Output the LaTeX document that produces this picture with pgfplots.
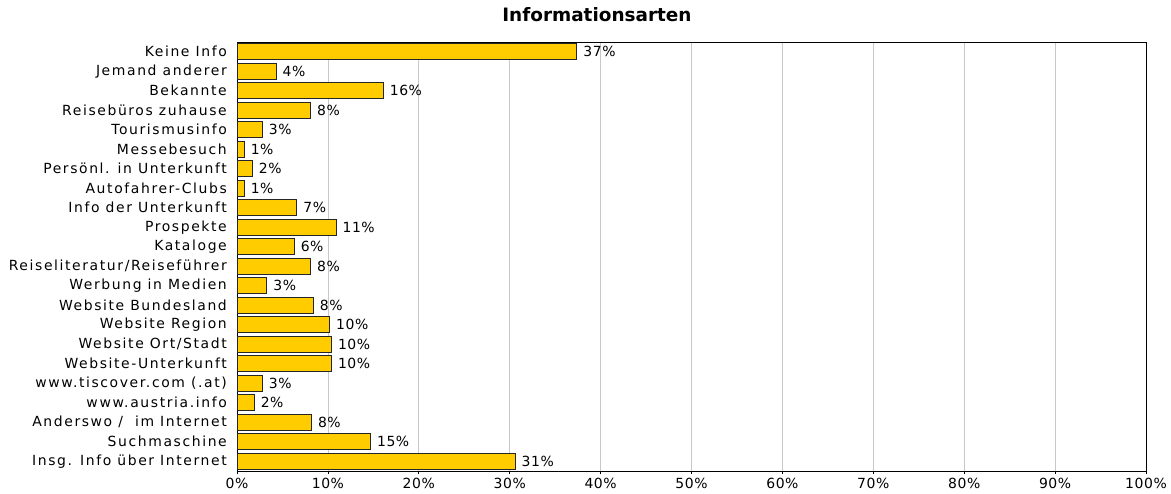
\documentclass[border=0pt]{standalone}
\usepackage{pgfplots}
\pgfplotsset{compat=1.18}
\usepackage{pgfplotstable}
\usepackage{fontspec}
\setmainfont{DejaVu Sans}[LetterSpace=11.5]
\newfontfamily\titlefont{DejaVu Sans}
\newfontfamily\numfont{DejaVu Sans}[LetterSpace=4]
\definecolor{barfill}{HTML}{FFCC00}
\definecolor{gridc}{HTML}{C8C8C8}
\pgfplotstableread{
y x lab
0 37.4 37
1 4.3 4
2 16.1 16
3 8.1 8
4 2.8 3
5 0.8 1
6 1.7 2
7 0.8 1
8 6.6 7
9 10.9 11
10 6.3 6
11 8.1 8
12 3.3 3
13 8.4 8
14 10.2 10
15 10.4 10
16 10.4 10
17 2.8 3
18 1.9 2
19 8.2 8
20 14.7 15
21 30.6 31
}\data
\begin{document}
\begin{tikzpicture}
\useasboundingbox (0,0) rectangle (1171bp,494bp);
\begin{axis}[
  at={(237bp,23bp)}, anchor=south west,
  scale only axis, width=909bp, height=429bp,
  xmin=0, xmax=100, ymin=-0.5, ymax=21.5,
  y dir=reverse,
  xbar, bar width=0.8,
  font=\fontsize{14}{16}\selectfont,
  /pgf/number format/assume math mode=true,
  xtick={0,10,...,100},
  xticklabels={0\%,10\%,20\%,30\%,40\%,50\%,60\%,70\%,80\%,90\%,100\%},
  ytick={0,...,21},
  yticklabels={Keine Info,Jemand anderer,Bekannte,Reisebüros zuhause,Tourismusinfo,Messebesuch,Persönl. in Unterkunft,Autofahrer-Clubs,Info der Unterkunft,Prospekte,Kataloge,Reiseliteratur/Reiseführer,Werbung in Medien,Website Bundesland,Website Region,Website Ort/Stadt,Website-Unterkunft,www.tiscover.com (.at),www.austria.info,Anderswo /~ im Internet,Suchmaschine,Insg. Info über Internet},
  xmajorgrids, major grid style={draw=gridc, line width=0.8bp},
  axis line style={black, line width=1bp},
  tick align=outside, xtick pos=bottom, major tick length=3bp,
  xtick style={black, line width=0.8bp},
  ytick style={draw=none},
  yticklabel style={inner sep=0pt, xshift=-7bp},
  xticklabel style={inner sep=0pt, yshift=-4bp, font=\numfont\fontsize{14}{16}\selectfont},
  title={\titlefont\bfseries Informationsarten},
  title style={at={(rel axis cs:0.396,1)}, anchor=base, yshift=15bp, inner sep=0pt, font=\fontsize{18.5}{20}\selectfont},
  point meta=explicit,
  nodes near coords={\pgfmathprintnumber{\pgfplotspointmeta}\%},
  nodes near coords style={anchor=west, inner sep=0pt, xshift=6bp, font=\numfont\fontsize{14}{16}\selectfont},
]
\addplot[fill=barfill, draw=black!85, line width=1bp] table[x=x, y=y, meta=lab] {\data};
\end{axis}
\end{tikzpicture}
\end{document}
